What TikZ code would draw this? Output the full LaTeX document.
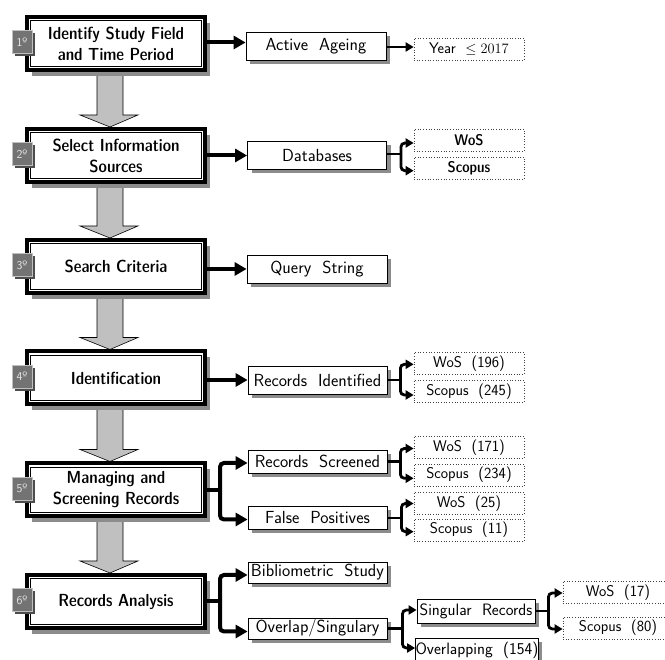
\documentclass[tikz,border=0pt]{standalone}
\usetikzlibrary{arrows.meta,shadows,calc}
\pgfdeclarelayer{background}
\pgfsetlayers{background,main}
\definecolor{shgray}{HTML}{8C8C8C}
\definecolor{blockgray}{HTML}{C0C0C0}
\definecolor{badgefill}{HTML}{737373}
\definecolor{badgeshadow}{HTML}{4D4D4D}
\definecolor{badgeborder}{HTML}{BFBFBF}
\definecolor{badgetext}{HTML}{E6E6E6}
\tikzset{
  mainbox/.style={rectangle, draw=black, line width=4pt, fill=white,
    minimum width=178pt, minimum height=53pt, inner sep=0pt, align=center,
    font=\fontsize{17.5}{21}\selectfont\sffamily\fontseries{sbc}\selectfont,
    drop shadow={shadow xshift=5pt, shadow yshift=-6pt, fill=shgray, opacity=1},
    path picture={\draw[line width=0.8pt]
      ([shift={(3.75pt,-3.75pt)}]path picture bounding box.north west) rectangle
      ([shift={(-3.75pt,3.75pt)}]path picture bounding box.south east);}},
  secbox/.style={rectangle, draw=black, line width=0.8pt, fill=white,
    minimum width=139pt, inner sep=0pt,
    font=\fontsize{17.5}{19}\selectfont\sffamily,
    drop shadow={shadow xshift=4pt, shadow yshift=-4pt, fill=shgray, opacity=1}},
  smallsec/.style={secbox, font=\fontsize{16.5}{18}\selectfont\sffamily},
  dotbox/.style={rectangle, draw=black!75, dotted, line width=0.7pt, fill=white,
    minimum width=110pt, minimum height=22pt, inner sep=0pt,
    font=\fontsize{15.5}{17}\selectfont\sffamily},
  boldtext/.style={font=\fontsize{15.5}{17}\selectfont\sffamily\fontseries{sbc}\selectfont},
  badge/.style={rectangle, draw=badgeborder, line width=0.8pt, fill=badgefill,
    minimum width=20pt, minimum height=23pt, inner sep=0pt, text=badgetext,
    font=\fontsize{12}{13}\selectfont\sffamily,
    drop shadow={shadow xshift=3pt, shadow yshift=-3pt, fill=badgeshadow, opacity=1}},
  mainarrow/.style={line width=4pt, -{Triangle[length=12pt,width=13pt]}},
  mainfork/.style={line width=4pt, rounded corners=4pt,
    {Triangle[length=12pt,width=13pt]}-{Triangle[length=12pt,width=13pt]}},
  subarrow/.style={line width=2.8pt, -{Triangle[length=8pt,width=9pt]}},
  subfork/.style={line width=2.8pt, rounded corners=4pt,
    {Triangle[length=8pt,width=9pt]}-{Triangle[length=8pt,width=9pt]}},
  blockarrow/.style={draw=black, line width=0.6pt, fill=blockgray},
}
\begin{document}
\begin{tikzpicture}[x=1pt,y=1pt]
\useasboundingbox (0,0) rectangle (665,660);
\clip (0,0) rectangle (665,660);

% main boxes
\node[mainbox] (m1) at (116,616.5) {Identify Study Field\\and Time Period};
\node[mainbox] (m2) at (116,504.5) {Select Information\\Sources};
\node[mainbox] (m3) at (116,393.5) {Search Criteria};
\node[mainbox] (m4) at (116,282) {Identification};
\node[mainbox] (m5) at (116,170) {Managing and\\Screening Records};
\node[mainbox] (m6) at (116,58.5) {Records Analysis};

% badges
\foreach \m/\t in {m1/1,m2/2,m3/3,m4/4,m5/5,m6/6}{
  \node[badge] (b\m) at ([shift={(-3pt,1.5pt)}]\m.west) {\t º};
}

% block arrows between main boxes
\begin{pgfonlayer}{background}
\foreach \a/\b in {m1/m2,m2/m3,m3/m4,m4/m5,m5/m6}{
  \path let \p1=(\a.south), \p2=(\b.north) in
    [blockarrow] (\x1-19pt,\y1+4pt) -- (\x1-19pt,\y2+12pt) -- (\x1-36pt,\y2+12pt)
    -- (\x1-6pt,\y2) -- (\x1+22pt,\y2+12pt) -- (\x1+7pt,\y2+12pt)
    -- (\x1+7pt,\y1+4pt) -- cycle;
}
\end{pgfonlayer}

% secondary boxes
\node[secbox, minimum width=140pt, minimum height=28pt] (a1) at (316,614) {Active\ \ Ageing};
\node[secbox, minimum height=28pt] (d2) at (317,504.5) {Databases};
\node[secbox, minimum width=140pt, minimum height=28pt] (q3) at (317,391) {Query\ \ String};
\node[secbox, minimum height=28pt] (r4) at (317.5,280) {Records\ \ Identified};
\node[secbox, minimum height=23pt] (r5a) at (317.5,198.5) {Records\ \ Screened};
\node[secbox, minimum height=23pt] (r5b) at (317.5,142) {False\ \ Positives};
\node[secbox, minimum height=21pt] (b6a) at (317.5,87.5) {Bibliometric\ \ Study};
\node[secbox, minimum height=21pt] (b6b) at (317.5,31.5) {Overlap/Singulary};
\node[smallsec, minimum width=118pt, minimum height=24pt] (sr) at (476,49) {Singular\ \ Records};
\node[smallsec, minimum width=120pt, minimum height=24pt] (ov) at (477,10) {Overlapping\ \ (154)};

% dotted boxes
\node[dotbox] (y1) at (469,611) {Year\ \ $\leq 2017$};
\node[dotbox, boldtext] (w2) at (469,520) {WoS};
\node[dotbox, boldtext] (s2) at (469,492) {Scopus};
\node[dotbox] (w4) at (469,296.5) {WoS\ \ (196)};
\node[dotbox] (s4) at (469,268.5) {Scopus\ \ (245)};
\node[dotbox] (w5) at (469,212.5) {WoS\ \ (171)};
\node[dotbox] (s5) at (469,185) {Scopus\ \ (234)};
\node[dotbox] (w5b) at (469,156.5) {WoS\ \ (25)};
\node[dotbox] (s5b) at (469,130) {Scopus\ \ (11)};
\node[dotbox] (w6) at (618,67.5) {WoS\ \ (17)};
\node[dotbox] (s6) at (618,32) {Scopus\ \ (80)};

% main arrows
\draw[mainarrow] ([yshift=1pt]m1.east) -- ([yshift=1pt]m1.east -| a1.west);
\draw[mainarrow] (m2.east) -- (d2.west);
\draw[mainarrow] (m3.east |- q3.west) -- (q3.west);
\draw[mainarrow] (m4.east |- r4.west) -- (r4.west);
\coordinate (j5) at ($(m5.east)+(13,0)$);
\draw[line width=4pt] (m5.east) -- (j5);
\draw[mainfork] ([yshift=-1.5pt]r5a.west) -| (j5) |- ([yshift=-1.5pt]r5b.west);
\coordinate (j6) at ($(m6.east)+(13,0)$);
\draw[line width=4pt] (m6.east) -- (j6);
\draw[mainfork] ([yshift=-2.5pt]b6a.west) -| (j6) |- ([yshift=-3pt]b6b.west);

% sub arrows
\draw[subarrow] ([yshift=-1pt]a1.east) -- ([yshift=-1pt]a1.east -| y1.west);
\coordinate (f2) at ($(d2.east)+(14,1.5)$);
\draw[line width=2.8pt] (d2.east |- f2) -- (f2);
\draw[subfork] ([yshift=-3pt]w2.west) -| (f2) |- ([yshift=-2.7pt]s2.west);
\coordinate (f4) at ($(r4.east)+(13,0)$);
\draw[line width=2.8pt] (r4.east) -- (f4);
\draw[subfork] ([yshift=-0.8pt]w4.west) -| (f4) |- ([yshift=-3.5pt]s4.west);
\coordinate (f5) at ($(r5a.east)+(13,0)$);
\draw[line width=2.8pt] (r5a.east) -- (f5);
\draw[subfork] ([yshift=-1pt]w5.west) -| (f5) |- ([yshift=-3.3pt]s5.west);
\coordinate (f5b) at ($(r5b.east)+(14,0)$);
\draw[line width=2.8pt] (r5b.east) -- (f5b);
\draw[subfork] (w5b.west) -| (f5b) |- ([yshift=-1.7pt]s5b.west);
\coordinate (f6) at ($(b6b.east)+(15,0)$);
\draw[line width=2.8pt] (b6b.east) -- (f6);
\draw[subfork] ([yshift=1pt]sr.west) -| (f6) |- ([yshift=2pt]ov.west);
\coordinate (f7) at ($(sr.east)+(13,0)$);
\draw[line width=2.8pt] (sr.east) -- (f7);
\draw[subfork] ([yshift=-0.5pt]w6.west) -| (f7) |- ([yshift=-1pt]s6.west);
\end{tikzpicture}
\end{document}
